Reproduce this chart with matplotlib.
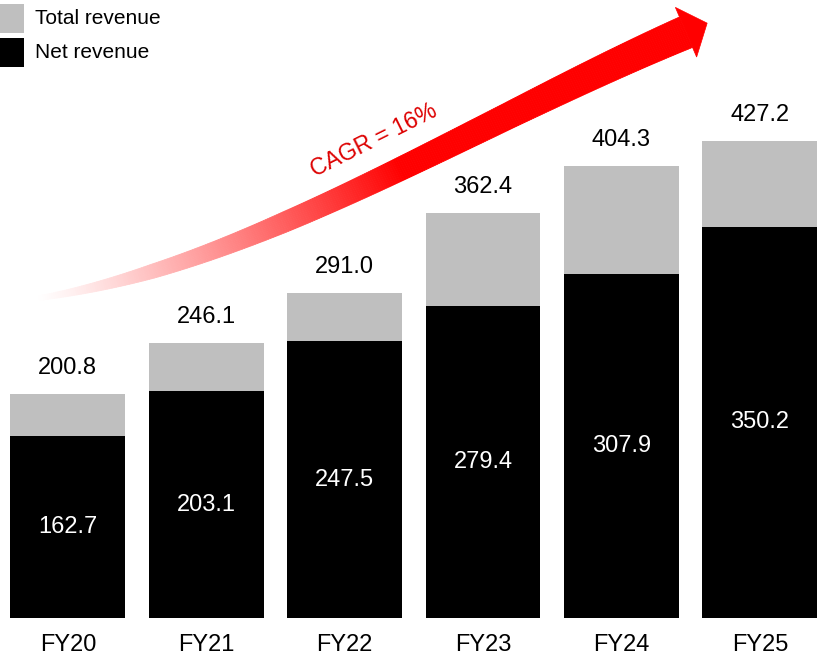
import numpy as np
import matplotlib
matplotlib.use("Agg")
import matplotlib.pyplot as plt
from matplotlib.patches import Polygon, Rectangle

plt.rcParams["font.family"] = ["Liberation Sans", "DejaVu Sans"]

# data
years = ["FY20", "FY21", "FY22", "FY23", "FY24", "FY25"]
total_revenue = [200.8, 246.1, 291.0, 362.4, 404.3, 427.2]
net_revenue = [162.7, 203.1, 247.5, 279.4, 307.9, 350.2]
cagr_label = "CAGR = 16%"

GRAY = "#bfbfbf"
BLACK = "#000000"
RED = "#ff0000"

fig = plt.figure(figsize=(8.18, 6.57), dpi=100)

# bar axes fills the whole figure
ax = fig.add_axes([0, 0, 1, 1])
x = np.arange(len(years))
width = 0.83
ax.bar(x, total_revenue, width, color=GRAY, zorder=1)
ax.bar(x, net_revenue, width, color=BLACK, zorder=2)

for xi, tot, net, yr in zip(x, total_revenue, net_revenue, years):
    ax.text(xi, tot + 23, f"{tot:.1f}", ha="center", va="center", fontsize=17)
    ax.text(xi, net / 2, f"{net:.1f}", ha="center", va="center",
            fontsize=17, color="white")
    ax.text(xi, -24, yr, ha="center", va="center", fontsize=17)

ax.set_xlim(-0.49, 5.42)
ax.set_ylim(-34.9, 553)
ax.axis("off")

# overlay in pixel coordinates for legend + arrow
ov = fig.add_axes([0, 0, 1, 1])
ov.set_xlim(0, 818)
ov.set_ylim(657, 0)
ov.axis("off")
ov.patch.set_alpha(0)

# legend
ov.add_patch(Rectangle((-2, 4), 26, 29, color=GRAY, lw=0))
ov.add_patch(Rectangle((-2, 38), 26, 29, color=BLACK, lw=0))
ov.text(35, 19, "Total revenue", va="center", fontsize=15)
ov.text(35, 53, "Net revenue", va="center", fontsize=15)

# growth arrow: centreline through a few guide points, fading in from the left
guide_x = [37, 153, 287, 335, 380, 510, 640, 686]
guide_y = [298, 272, 222, 200, 176, 116, 54, 31]
coef = np.polyfit(guide_x, guide_y, 3)
xs = np.linspace(37, 686, 300)
ys = np.polyval(coef, xs)
dy = np.polyval(np.polyder(coef), xs)
tang = np.stack([np.ones_like(dy), dy], axis=1)
tang /= np.linalg.norm(tang, axis=1)[:, None]
norm = np.stack([-tang[:, 1], tang[:, 0]], axis=1)
half = np.interp(xs, [37, 153, 287, 510, 686], [2, 7, 10, 13, 16.5])
alpha = np.clip((xs - 37) / (400 - 37), 0, 1) ** 1.2

for i in range(len(xs) - 1):
    p0 = np.array([xs[i], ys[i]])
    p1 = np.array([xs[i + 1], ys[i + 1]])
    quad = [p0 + half[i] * norm[i], p1 + half[i + 1] * norm[i + 1],
            p1 - half[i + 1] * norm[i + 1], p0 - half[i] * norm[i]]
    a = alpha[i]
    col = (1.0, 1.0 - a, 1.0 - a)
    ov.add_patch(Polygon(quad, closed=True, facecolor=col, edgecolor=col, lw=0.6))

end = np.array([xs[-1], ys[-1]])
t_end, n_end = tang[-1], norm[-1]
head = [end + 27 * n_end, end + 23 * t_end, end - 27 * n_end]
ov.add_patch(Polygon(head, closed=True, facecolor=RED, edgecolor=RED, lw=0.5))

ov.text(374, 140, cagr_label, rotation=26.5, rotation_mode="anchor",
        ha="center", va="center", fontsize=16.5, color="#dd0000")

fig.savefig("out.png", dpi=100)
